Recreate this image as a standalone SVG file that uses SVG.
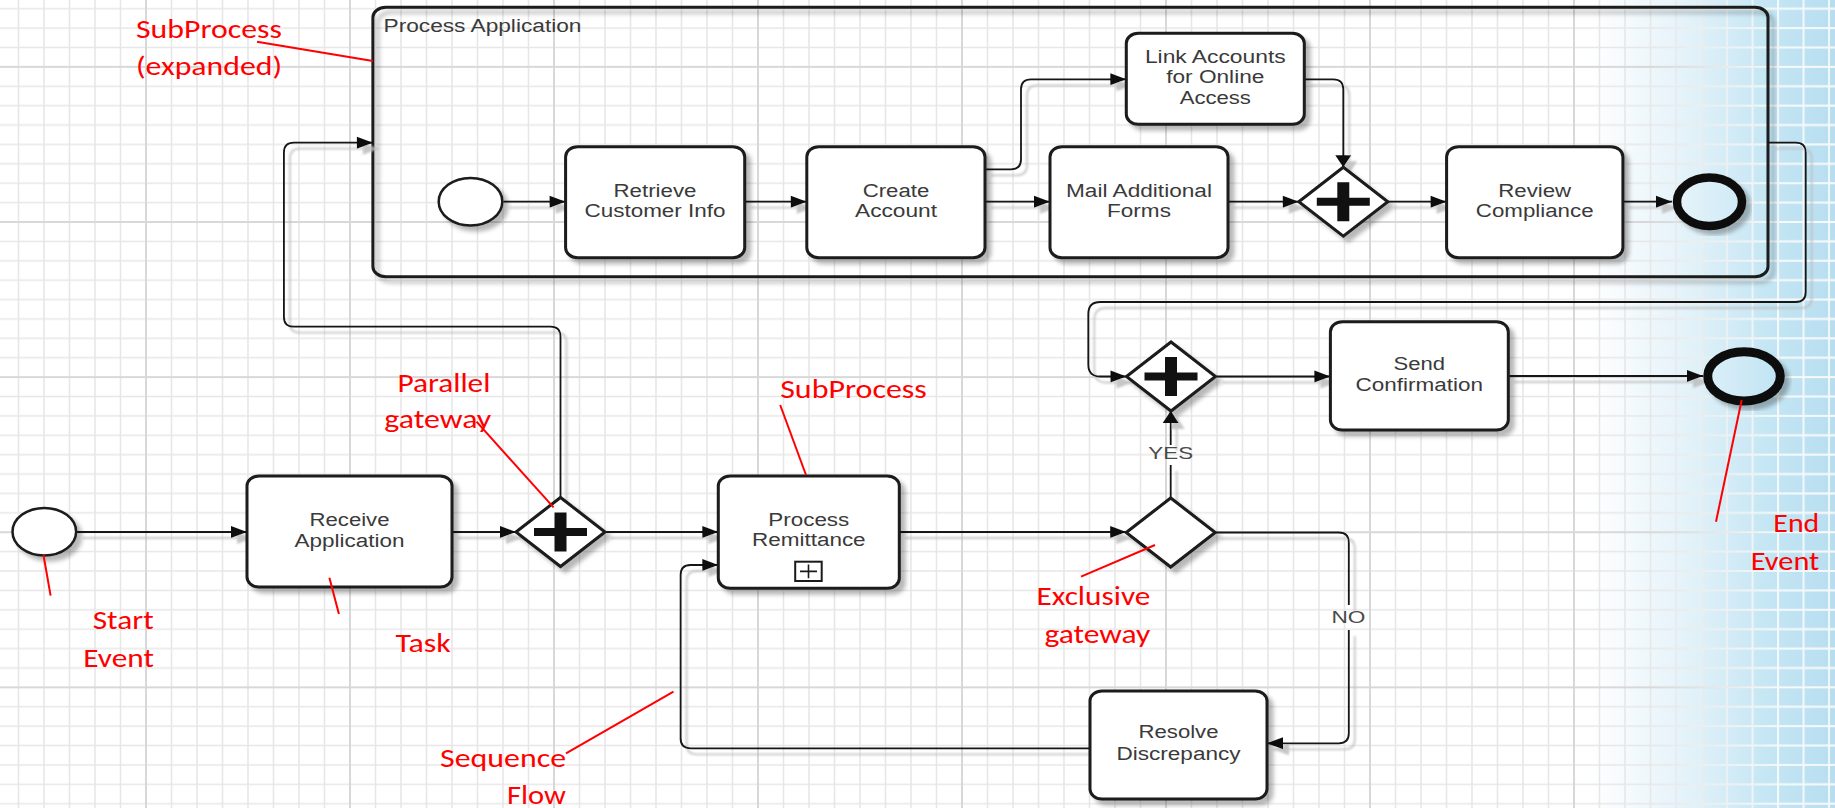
<svg xmlns="http://www.w3.org/2000/svg" width="1835" height="808" viewBox="0 0 1835 808">
  <style>
    .gmin { stroke: #e7e7e7; stroke-width: 1.6; }
    .gmaj { stroke: #d8d8d8; stroke-width: 2; }
    .lmin { stroke: #f2f9fc; stroke-width: 1.8; }
    .lmaj { stroke: #f5fbfd; stroke-width: 2.2; }
    .task { fill: #ffffff; stroke: #1a1a1a; stroke-width: 3; }
    .gw { fill: #ffffff; stroke: #1a1a1a; stroke-width: 3; }
    .ev { fill: #ffffff; stroke: #1a1a1a; stroke-width: 2.5; }
    .ev-end { fill: url(#bgFade); stroke: #111111; }
    .flow { fill: none; stroke: #141414; stroke-width: 1.8; }
    .txt { font-family: "Liberation Sans", Arial, sans-serif; font-size: 18px; fill: #3a3a3a; text-anchor: middle; }
    .cond { font-family: "Liberation Sans", Arial, sans-serif; font-size: 17px; fill: #4a4a4a; text-anchor: middle; }
    .note { font-family: Carlito, Lato, sans-serif; font-size: 27px; fill: #ff0000; }
    .lead { stroke: #ff0000; stroke-width: 2; fill: none; }
  </style>
  <defs>
    <!-- light blue wash on the right-hand side -->
    <linearGradient id="bgFade" gradientUnits="userSpaceOnUse" x1="1590" y1="0" x2="1835" y2="0">
      <stop offset="0" stop-color="#ffffff"/>
      <stop offset="0.4" stop-color="#e3f2f9"/>
      <stop offset="0.72" stop-color="#c5e6f4"/>
      <stop offset="1" stop-color="#b7def0"/>
    </linearGradient>
    <linearGradient id="fadeIn" gradientUnits="userSpaceOnUse" x1="1650" y1="0" x2="1785" y2="0">
      <stop offset="0" stop-color="#000000"/>
      <stop offset="1" stop-color="#ffffff"/>
    </linearGradient>
    <mask id="blueZone" maskUnits="userSpaceOnUse" x="0" y="0" width="1835" height="808">
      <rect width="1835" height="808" fill="url(#fadeIn)"/>
    </mask>

    <!-- 8 x 8 cell grid tile -->
    <pattern id="grid" patternUnits="userSpaceOnUse" x="145" y="221" width="204" height="155.12">
      <path class="gmin" d="M26.5 0V155.12M52 0V155.12M77.5 0V155.12M103 0V155.12M128.5 0V155.12M154 0V155.12M179.5 0V155.12M0 20.39H204M0 39.78H204M0 59.17H204M0 78.56H204M0 97.95H204M0 117.34H204M0 136.73H204"/>
      <path class="gmaj" d="M1 0V155.12M0 1H204"/>
    </pattern>
    <pattern id="gridLight" patternUnits="userSpaceOnUse" x="145" y="221" width="204" height="155.12">
      <path class="lmin" d="M26.5 0V155.12M52 0V155.12M77.5 0V155.12M103 0V155.12M128.5 0V155.12M154 0V155.12M179.5 0V155.12M0 20.39H204M0 39.78H204M0 59.17H204M0 78.56H204M0 97.95H204M0 117.34H204M0 136.73H204"/>
      <path class="lmaj" d="M1 0V155.12M0 1H204"/>
    </pattern>

    <filter id="sh" x="-10%" y="-10%" width="125%" height="130%">
      <feDropShadow dx="5" dy="5" stdDeviation="2.2" flood-color="#000000" flood-opacity="0.28"/>
    </filter>
    <filter id="lineSh" filterUnits="userSpaceOnUse" x="0" y="0" width="1835" height="808">
      <feDropShadow dx="6" dy="6" stdDeviation="0.8" flood-color="#bcbcbc" flood-opacity="0.85"/>
    </filter>

    <marker id="ah" markerUnits="userSpaceOnUse" markerWidth="16" markerHeight="12" refX="16" refY="6" orient="auto" overflow="visible">
      <path d="M0 0L16 6L0 12Z" fill="#111111"/>
    </marker>
    <marker id="av" markerUnits="userSpaceOnUse" markerWidth="12" markerHeight="16" refX="12" refY="8" orient="auto" overflow="visible">
      <path d="M0 0L12 8L0 16Z" fill="#111111"/>
    </marker>

    <path id="diamond" class="gw" d="M-44.5 0L0 -34.5L44.5 0L0 34.5Z"/>
    <path id="plus" fill="#111111" d="M-26.5 -4h20.5v-15.5h12v15.5h20.5v8h-20.5v15.5h-12v-15.5h-20.5z"/>
  </defs>

  <!-- background and grid -->
  <rect width="1835" height="808" fill="url(#bgFade)"/>
  <rect width="1835" height="808" fill="url(#grid)"/>
  <rect width="1835" height="808" fill="url(#gridLight)" mask="url(#blueZone)"/>

  <!-- expanded sub-process container -->
  <g id="sub-process-application">
    <rect x="372.9" y="7.3" width="1395.1" height="269.4" rx="13" ry="10" fill="none" stroke="#1a1a1a" stroke-width="3" filter="url(#sh)"/>
    <text x="383.5" y="31.7" font-family="Liberation Sans, Arial, sans-serif" font-size="18" fill="#3a3a3a" textLength="198" lengthAdjust="spacingAndGlyphs">Process Application</text>
  </g>

  <!-- sequence flows -->
  <g id="connectors" class="flow" filter="url(#lineSh)">
    <path d="M77 532H247" marker-end="url(#ah)"/>
    <path d="M452 532H516" marker-end="url(#ah)"/>
    <path d="M560.5 497.5V336.7Q560.5 326.7 550.5 326.7H293.9Q283.9 326.7 283.9 316.7V152.7Q283.9 142.7 293.9 142.7H372.9" marker-end="url(#ah)"/>
    <path d="M605 532H718.3" marker-end="url(#ah)"/>
    <path d="M899.3 532H1126.2" marker-end="url(#ah)"/>
    <path d="M1170.7 498V465"/>
    <path d="M1170.7 445V411" marker-end="url(#av)"/>
    <path d="M1768 142.7H1795.7Q1805.7 142.7 1805.7 152.7V292Q1805.7 302 1795.7 302H1100.3Q1088.3 302 1088.3 314V364.5Q1088.3 376.5 1100.3 376.5H1126.5" marker-end="url(#ah)"/>
    <path d="M1216.5 376.5H1330.4" marker-end="url(#ah)"/>
    <path d="M1508.3 376H1703" marker-end="url(#ah)"/>
    <path d="M1215.2 532.5H1338.8Q1348.8 532.5 1348.8 542.5V605"/>
    <path d="M1348.8 630V733.3Q1348.8 743.3 1338.8 743.3H1267" marker-end="url(#ah)"/>
    <path d="M1090 748.3H690.6Q680.6 748.3 680.6 738.3V575Q680.6 565 690.6 565H718.3" marker-end="url(#ah)"/>
    <path d="M503.5 201.7H565.6" marker-end="url(#ah)"/>
    <path d="M744.7 201.7H806.8" marker-end="url(#ah)"/>
    <path d="M985 201.7H1050" marker-end="url(#ah)"/>
    <path d="M985 169.3H1011Q1021 169.3 1021 159.3V89.3Q1021 79.3 1031 79.3H1126.3" marker-end="url(#ah)"/>
    <path d="M1304.3 79.3H1333.3Q1343.3 79.3 1343.3 89.3V167.2" marker-end="url(#av)"/>
    <path d="M1228 201.7H1298.8" marker-end="url(#ah)"/>
    <path d="M1387.8 201.7H1446.6" marker-end="url(#ah)"/>
    <path d="M1623 201.7H1672" marker-end="url(#ah)"/>
  </g>
  <text class="cond" x="1170.7" y="459.3" textLength="44.7" lengthAdjust="spacingAndGlyphs">YES</text>
  <text class="cond" x="1348.5" y="622.7" textLength="34" lengthAdjust="spacingAndGlyphs">NO</text>

  <!-- inner flow of the sub-process -->
  <g id="sp-start" filter="url(#sh)">
    <ellipse class="ev" cx="470.5" cy="201.7" rx="31.8" ry="23.8"/>
  </g>
  <g id="task-retrieve">
    <rect class="task" x="565.6" y="146.7" width="179.1" height="111" rx="12" ry="10" filter="url(#sh)"/>
    <text class="txt" x="655" y="196.7" textLength="83" lengthAdjust="spacingAndGlyphs">Retrieve</text>
    <text class="txt" x="655" y="217.3" textLength="141" lengthAdjust="spacingAndGlyphs">Customer Info</text>
  </g>
  <g id="task-create">
    <rect class="task" x="806.8" y="146.7" width="178.2" height="111" rx="12" ry="10" filter="url(#sh)"/>
    <text class="txt" x="896" y="196.7" textLength="66.6" lengthAdjust="spacingAndGlyphs">Create</text>
    <text class="txt" x="896" y="217.3" textLength="82" lengthAdjust="spacingAndGlyphs">Account</text>
  </g>
  <g id="task-link">
    <rect class="task" x="1126.3" y="33.3" width="178" height="91" rx="12" ry="10" filter="url(#sh)"/>
    <text class="txt" x="1215.3" y="62.7" textLength="140.8" lengthAdjust="spacingAndGlyphs">Link Accounts</text>
    <text class="txt" x="1215.3" y="83.3" textLength="98.2" lengthAdjust="spacingAndGlyphs">for Online</text>
    <text class="txt" x="1215.3" y="104" textLength="71.3" lengthAdjust="spacingAndGlyphs">Access</text>
  </g>
  <g id="task-mail">
    <rect class="task" x="1050" y="146.7" width="178" height="111" rx="12" ry="10" filter="url(#sh)"/>
    <text class="txt" x="1139" y="196.7" textLength="146" lengthAdjust="spacingAndGlyphs">Mail Additional</text>
    <text class="txt" x="1139" y="217.3" textLength="63.8" lengthAdjust="spacingAndGlyphs">Forms</text>
  </g>
  <g id="gw-join-accounts" transform="translate(1343.3 201.7)">
    <use href="#diamond" filter="url(#sh)"/>
    <use href="#plus"/>
  </g>
  <g id="task-review">
    <rect class="task" x="1446.6" y="146.7" width="176.3" height="111" rx="12" ry="10" filter="url(#sh)"/>
    <text class="txt" x="1534.7" y="196.7" textLength="73" lengthAdjust="spacingAndGlyphs">Review</text>
    <text class="txt" x="1534.7" y="217.3" textLength="117.7" lengthAdjust="spacingAndGlyphs">Compliance</text>
  </g>
  <g id="sp-end" filter="url(#sh)">
    <ellipse class="ev-end" cx="1709.5" cy="201.7" rx="32.5" ry="24.2" stroke-width="8.5"/>
  </g>

  <!-- main flow -->
  <g id="start-event" filter="url(#sh)">
    <ellipse class="ev" cx="44.3" cy="531.7" rx="31.8" ry="23.8"/>
  </g>
  <g id="task-receive">
    <rect class="task" x="247" y="476" width="205" height="111" rx="12" ry="10" filter="url(#sh)"/>
    <text class="txt" x="349.5" y="526" textLength="80" lengthAdjust="spacingAndGlyphs">Receive</text>
    <text class="txt" x="349.5" y="547" textLength="110" lengthAdjust="spacingAndGlyphs">Application</text>
  </g>
  <g id="gw-split" transform="translate(560.5 532)">
    <use href="#diamond" filter="url(#sh)"/>
    <use href="#plus"/>
  </g>
  <g id="subprocess-remittance">
    <rect class="task" x="718.3" y="476" width="181" height="112.3" rx="12" ry="10" filter="url(#sh)"/>
    <text class="txt" x="808.8" y="525.7" textLength="81" lengthAdjust="spacingAndGlyphs">Process</text>
    <text class="txt" x="808.8" y="546" textLength="113.7" lengthAdjust="spacingAndGlyphs">Remittance</text>
    <rect x="795.2" y="561.7" width="26.5" height="19.3" fill="none" stroke="#1a1a1a" stroke-width="2"/>
    <path d="M800 571.4H817M808.5 564.5V578.3" stroke="#1a1a1a" stroke-width="1.6" fill="none"/>
  </g>
  <g id="gw-check" transform="translate(1170.7 532.5)">
    <use href="#diamond" filter="url(#sh)"/>
  </g>
  <g id="gw-merge" transform="translate(1171 376.5)">
    <use href="#diamond" filter="url(#sh)"/>
    <use href="#plus"/>
  </g>
  <g id="task-send">
    <rect class="task" x="1330.4" y="321.7" width="177.9" height="108.3" rx="12" ry="10" filter="url(#sh)"/>
    <text class="txt" x="1419.3" y="370" textLength="51.5" lengthAdjust="spacingAndGlyphs">Send</text>
    <text class="txt" x="1419.3" y="391" textLength="127.5" lengthAdjust="spacingAndGlyphs">Confirmation</text>
  </g>
  <g id="end-event" filter="url(#sh)">
    <ellipse class="ev-end" cx="1744" cy="376.3" rx="36.3" ry="24.6" stroke-width="9"/>
  </g>
  <g id="task-resolve">
    <rect class="task" x="1090" y="691" width="177" height="108" rx="12" ry="10" filter="url(#sh)"/>
    <text class="txt" x="1178.5" y="738.3" textLength="80" lengthAdjust="spacingAndGlyphs">Resolve</text>
    <text class="txt" x="1178.5" y="760" textLength="124" lengthAdjust="spacingAndGlyphs">Discrepancy</text>
  </g>

  <!-- red call-outs -->
  <g id="annotations">
    <path class="lead" d="M257 41.7L372.9 61"/>
    <path class="lead" d="M43.5 555L50.6 595.7"/>
    <path class="lead" d="M329.4 577.7L338.9 614"/>
    <path class="lead" d="M476.5 421.7L553.6 507.3"/>
    <path class="lead" d="M566 753.3L673.5 691.7"/>
    <path class="lead" d="M780.2 405L806 475"/>
    <path class="lead" d="M1081 576.7L1155 545"/>
    <path class="lead" d="M1741.7 400L1716 521.7"/>

    <text class="note" x="136" y="38.3" textLength="146" lengthAdjust="spacingAndGlyphs">SubProcess</text>
    <text class="note" x="136" y="75.3" textLength="146" lengthAdjust="spacingAndGlyphs">(expanded)</text>
    <text class="note" x="397.4" y="391.7" textLength="93" lengthAdjust="spacingAndGlyphs">Parallel</text>
    <text class="note" x="384.3" y="428.3" textLength="107" lengthAdjust="spacingAndGlyphs">gateway</text>
    <text class="note" x="92.7" y="629.3" textLength="61" lengthAdjust="spacingAndGlyphs">Start</text>
    <text class="note" x="83.3" y="666.7" textLength="70.7" lengthAdjust="spacingAndGlyphs">Event</text>
    <text class="note" x="395.4" y="651.7" textLength="55.4" lengthAdjust="spacingAndGlyphs">Task</text>
    <text class="note" x="440" y="766.7" textLength="126" lengthAdjust="spacingAndGlyphs">Sequence</text>
    <text class="note" x="506.9" y="804" textLength="59" lengthAdjust="spacingAndGlyphs">Flow</text>
    <text class="note" x="780.2" y="398.3" textLength="146.7" lengthAdjust="spacingAndGlyphs">SubProcess</text>
    <text class="note" x="1036.5" y="605" textLength="113.8" lengthAdjust="spacingAndGlyphs">Exclusive</text>
    <text class="note" x="1044.4" y="643.3" textLength="106" lengthAdjust="spacingAndGlyphs">gateway</text>
    <text class="note" x="1773.3" y="531.7" textLength="46" lengthAdjust="spacingAndGlyphs">End</text>
    <text class="note" x="1750.7" y="570" textLength="68.6" lengthAdjust="spacingAndGlyphs">Event</text>
  </g>
</svg>
